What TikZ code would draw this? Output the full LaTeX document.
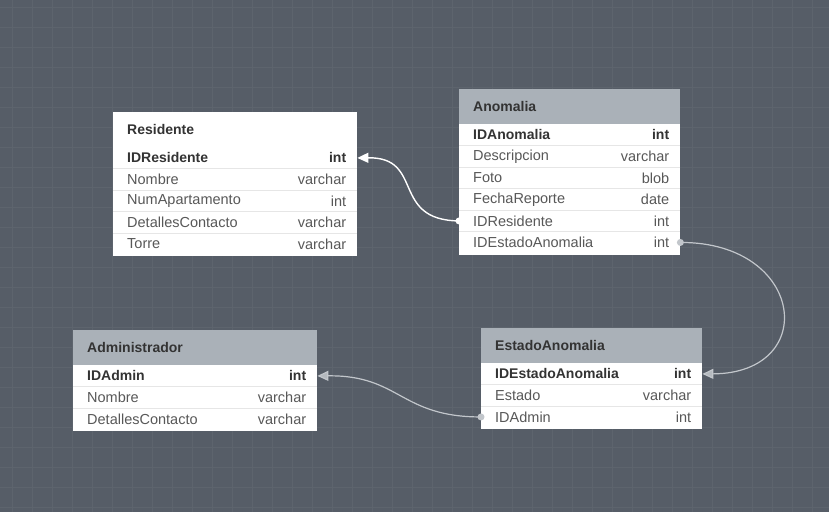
\documentclass[tikz,border=0pt]{standalone}
\usepackage{fontspec}
\setmainfont{Liberation Sans}
\usetikzlibrary{arrows.meta,calc}
\definecolor{bgc}{HTML}{565D67}
\definecolor{gridc}{HTML}{5D646D}
\definecolor{hdrc}{HTML}{AAB1B8}
\definecolor{sepc}{HTML}{E6E6E6}
\definecolor{fieldc}{HTML}{585858}
\definecolor{keyc}{HTML}{333333}
\definecolor{linkg}{HTML}{C2C6CB}
\definecolor{tipg}{HTML}{B4B9BE}
\tikzset{
  rowbox/.style={inner sep=0pt, minimum height=21.5pt, draw=none},
  fieldtext/.style={inner sep=0pt, font=\fontsize{14.5}{16}\selectfont, text=fieldc},
  keytext/.style={inner sep=0pt, font=\fontsize{14}{16}\selectfont\bfseries, text=keyc},
  titletext/.style={inner sep=0pt, font=\fontsize{14}{16}\selectfont\bfseries, text=keyc},
  linkw/.style={draw=white, line width=1.4pt, -{Triangle[length=11pt,width=10pt]}},
  linkgr/.style={draw=linkg, line width=1.2pt, -{Triangle[length=11pt,width=10pt,fill=tipg]}},
}
% #1 name, #2 x, #3 top, #4 width, #5 height, #6 header fill, #7 title, #8 rows
\newcommand{\erdtable}[8]{%
  \fill[white] (#2,#3) rectangle ++(#4,#5);
  \fill[#6] (#2,#3) rectangle ++(#4,35);
  \node[titletext, anchor=west] (#1-title) at (#2+14,#3+17.5) {#7};
  \foreach \f/\t [count=\i] in {#8} {
    \pgfmathsetmacro\yy{#3+35+(\i-1)*21.5}
    \node[rowbox, minimum width=#4, anchor=north west] (#1-\i) at (#2,\yy) {};
    \ifnum\i=1
      \node[keytext, anchor=west] at ($(#1-\i.west)+(14,0)$) {\f};
      \node[keytext, anchor=east] at ($(#1-\i.east)+(-11,0)$) {\t};
    \else
      \draw[sepc, line width=0.8pt] (#1-\i.north west) -- (#1-\i.north east);
      \node[fieldtext, anchor=west] at ($(#1-\i.west)+(14,0)$) {\f};
      \node[fieldtext, anchor=east] at ($(#1-\i.east)+(-11,0)$) {\t};
    \fi
  }%
}
\begin{document}
\begin{tikzpicture}[x=1pt,y=-1pt]
\fill[bgc] (0,0) rectangle (829,512);
\useasboundingbox (0,0) rectangle (829,512);
\foreach \x in {12,32,...,812} \draw[gridc, line width=0.6pt] (\x,0) -- (\x,512);
\foreach \y in {7,27,...,507} \draw[gridc, line width=0.6pt] (0,\y) -- (829,\y);

\erdtable{res}{113}{112}{244}{144}{white}{Residente}{IDResidente/int, Nombre/varchar, NumApartamento/int, DetallesContacto/varchar, Torre/varchar}
\erdtable{ano}{459}{89}{221}{166}{hdrc}{Anomalia}{IDAnomalia/int, Descripcion/varchar, Foto/blob, FechaReporte/date, IDResidente/int, IDEstadoAnomalia/int}
\erdtable{adm}{73}{330}{244}{101}{hdrc}{Administrador}{IDAdmin/int, Nombre/varchar, DetallesContacto/varchar}
\erdtable{est}{481}{328}{221}{101}{hdrc}{EstadoAnomalia}{IDEstadoAnomalia/int, Estado/varchar, IDAdmin/int}

% connectors
\draw[linkw] (ano-5.west) .. controls (390,220) and (425,157) .. (res-1.east);
\fill[white] (ano-5.west) circle (3.5);
\draw[linkgr] (ano-6.east) .. controls (805,242) and (820,373) .. (est-1.east);
\fill[linkg] (ano-6.east) circle (3.5);
\draw[linkgr] (est-3.west) .. controls (400,417) and (400,375) .. (adm-1.east);
\fill[linkg] (est-3.west) circle (3.5);
\end{tikzpicture}
\end{document}
